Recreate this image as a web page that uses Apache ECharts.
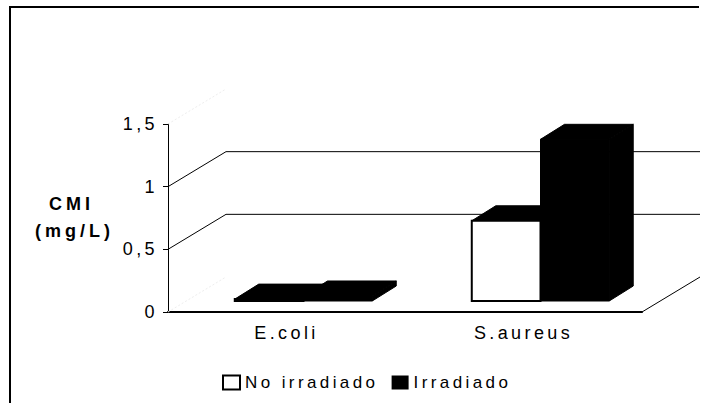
<!DOCTYPE html>
<html>
<head>
<meta charset="utf-8">
<style>
  html, body { margin: 0; background: #fff; }
  #chart { width: 710px; height: 403px; }
  /* the original has very loose letter spacing */
  #chart text { letter-spacing: 3.4px; }
  #chart text[style*="bold"] { letter-spacing: 4px; }
</style>
<script src="https://cdn.jsdelivr.net/npm/echarts@6/dist/echarts.min.js"></script>
</head>
<body>
<div id="chart"></div>
<script>
const categories = ['E.coli', 'S.aureus'];
const seriesNames = ['No irradiado', 'Irradiado'];
const noIrradiado = [0.015, 0.64];
const irradiado = [0.04, 1.29];
const gridValues = [0.5, 1];
const faintValues = [0, 1.5];
const yTicks = [0, 0.5, 1, 1.5];

// fake 3D: pixel offset of the back wall, the bar front and the bar depth
const WALL = [58, -35];
const FRONT = [17, -11];
const DEPTH = [24, -15];
const BAR_RATIO = 0.29;

const fontFamily = '"Liberation Sans", Arial, sans-serif';

function renderBar(seriesIndex) {
  return function (params, api) {
    const bottom = api.coord([api.value(0), 0]);
    const top = api.coord([api.value(0), api.value(1)]);
    const w = api.size([1, 0])[0] * BAR_RATIO;
    const x0 = bottom[0] + FRONT[0] - (seriesIndex === 0 ? w : 0);
    const x1 = x0 + w;
    const yb = bottom[1] + FRONT[1];
    const yt = top[1] + FRONT[1];
    const black = { fill: '#000', stroke: '#000', lineWidth: 1 };
    return {
      type: 'group',
      children: [
        {
          type: 'polygon',
          shape: { points: [[x0, yt], [x0 + DEPTH[0], yt + DEPTH[1]], [x1 + DEPTH[0], yt + DEPTH[1]], [x1, yt]] },
          style: black
        },
        {
          type: 'polygon',
          shape: { points: [[x1, yt], [x1 + DEPTH[0], yt + DEPTH[1]], [x1 + DEPTH[0], yb + DEPTH[1]], [x1, yb]] },
          style: black
        },
        {
          type: 'rect',
          shape: { x: x0, y: yt, width: w, height: yb - yt },
          style: seriesIndex === 0
            ? { fill: '#fff', stroke: '#000', lineWidth: 2 }
            : black
        }
      ]
    };
  };
}

function renderWall(params, api) {
  const p = api.coord([0, api.value(0)]);
  const left = params.coordSys.x;
  const right = left + params.coordSys.width;
  return {
    type: 'polyline',
    shape: { points: [[left, p[1]], [left + WALL[0], p[1] + WALL[1]], [right + WALL[0], p[1] + WALL[1]]] },
    style: { fill: 'none', stroke: '#000', lineWidth: 1 },
    silent: true
  };
}

// barely visible dotted edges of the wall, at the bottom and the top
function renderFaint(params, api) {
  const p = api.coord([0, api.value(0)]);
  const left = params.coordSys.x;
  return {
    type: 'line',
    shape: { x1: left, y1: p[1], x2: left + WALL[0], y2: p[1] + WALL[1] },
    style: { stroke: '#eee', lineWidth: 1, lineDash: [2, 2] },
    silent: true
  };
}

function renderFloor(params, api) {
  const p = api.coord([0, 0]);
  const right = params.coordSys.x + params.coordSys.width;
  return {
    type: 'line',
    shape: { x1: right, y1: p[1], x2: right + WALL[0], y2: p[1] + WALL[1] },
    style: { stroke: '#000', lineWidth: 1 },
    silent: true
  };
}

const chart = echarts.init(document.getElementById('chart'), null, { renderer: 'svg' });

chart.setOption({
  animation: false,
  backgroundColor: '#fff',
  textStyle: { fontFamily: fontFamily },
  grid: { left: 168, right: 68, top: 124, bottom: 91 },
  legend: {
    left: 222,
    top: 374,
    padding: 0,
    icon: 'rect',
    itemWidth: 17,
    itemHeight: 14,
    itemGap: 54,
    selectedMode: false,
    data: seriesNames,
    textStyle: { fontSize: 17, color: '#000', fontFamily: fontFamily }
  },
  xAxis: {
    type: 'category',
    data: categories,
    axisLine: { lineStyle: { color: '#000', width: 2 } },
    axisTick: { length: 4, lineStyle: { color: '#000' } },
    axisLabel: { fontSize: 18, color: '#000', margin: 12 }
  },
  yAxis: {
    type: 'value',
    min: 0,
    max: 1.5,
    interval: 0.5,
    axisLine: { show: true, lineStyle: { color: '#000', width: 1 } },
    axisTick: { show: true, length: 5, lineStyle: { color: '#000' } },
    splitLine: { show: false },
    axisLabel: {
      fontSize: 18,
      color: '#000',
      margin: 10,
      formatter: v => String(yTicks.find(t => t === v)).replace('.', ',')
    }
  },
  graphic: [
    {
      type: 'polyline',
      shape: { points: [[10, 403], [10, 7], [699, 7]] },
      style: { fill: 'none', stroke: '#000', lineWidth: 2 },
      silent: true
    },
    {
      type: 'text',
      left: 49,
      top: 195,
      style: { text: 'CMI', font: 'bold 18px ' + fontFamily, fill: '#000' }
    },
    {
      type: 'text',
      left: 35,
      top: 222,
      style: { text: '(mg/L)', font: 'bold 18px ' + fontFamily, fill: '#000' }
    }
  ],
  series: [
    {
      type: 'custom',
      name: 'faint',
      data: faintValues.map(v => [v]),
      encode: { y: 0 },
      renderItem: renderFaint,
      z: 1
    },
    {
      type: 'custom',
      name: 'wall',
      data: gridValues.map(v => [v]),
      encode: { y: 0 },
      renderItem: renderWall,
      z: 1
    },
    {
      type: 'custom',
      name: 'floor',
      data: [[0]],
      encode: { y: 0 },
      renderItem: renderFloor,
      z: 1
    },
    {
      type: 'custom',
      name: seriesNames[0],
      data: noIrradiado.map((v, i) => [i, v]),
      encode: { x: 0, y: 1 },
      renderItem: renderBar(0),
      itemStyle: { color: '#fff', borderColor: '#000', borderWidth: 3 },
      z: 2
    },
    {
      type: 'custom',
      name: seriesNames[1],
      data: irradiado.map((v, i) => [i, v]),
      encode: { x: 0, y: 1 },
      renderItem: renderBar(1),
      itemStyle: { color: '#000' },
      z: 3
    }
  ]
});
</script>
</body>
</html>
